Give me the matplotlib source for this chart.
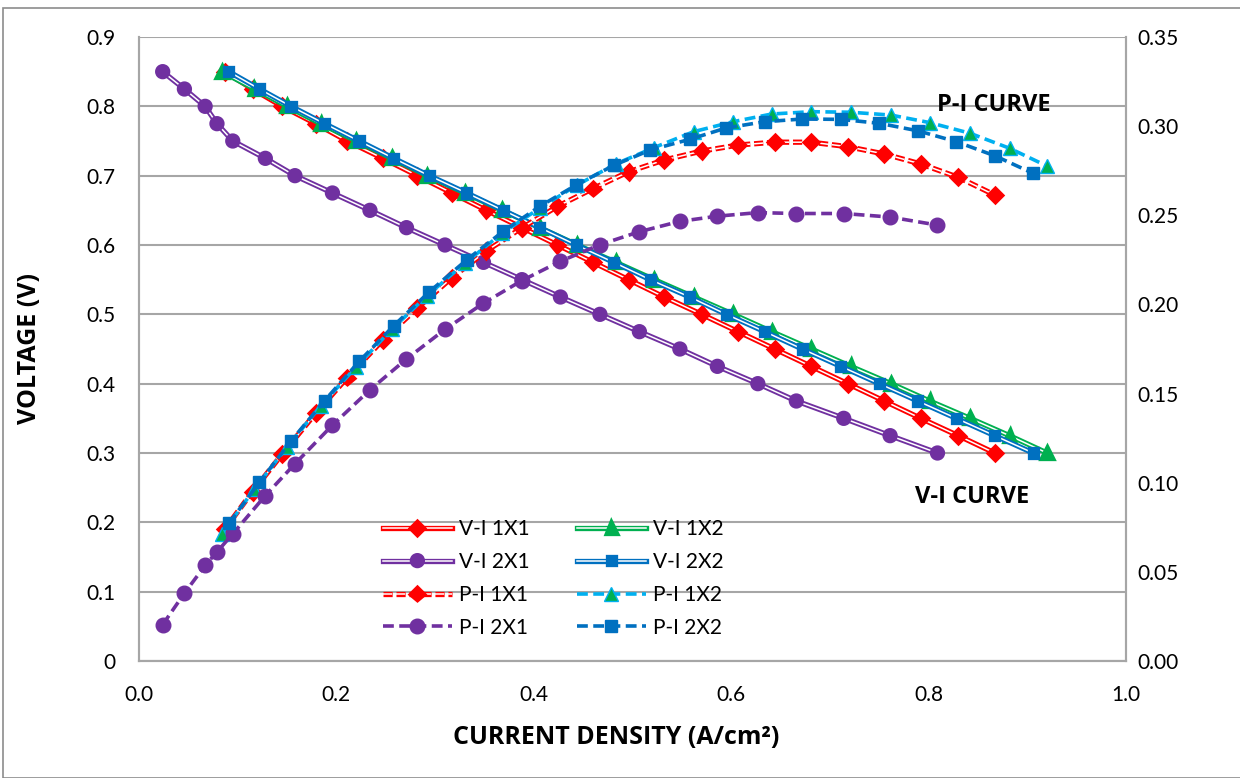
import matplotlib
matplotlib.use("Agg")
import matplotlib.pyplot as plt
import matplotlib.patheffects as pe
from matplotlib.patches import Rectangle
from matplotlib.ticker import FuncFormatter

plt.rcParams['font.family'] = ['Lato', 'DejaVu Sans']

# cell voltage (V), shared by all four cells
voltage = [0.85, 0.825, 0.80, 0.775, 0.75, 0.725, 0.70, 0.675, 0.65, 0.625, 0.60, 0.575,
           0.55, 0.525, 0.50, 0.475, 0.45, 0.425, 0.40, 0.375, 0.35, 0.325, 0.30]

# current density (A/cm2)
i_1x1 = [0.087, 0.115, 0.145, 0.179, 0.211, 0.247, 0.282, 0.317, 0.352, 0.388, 0.424, 0.460,
         0.496, 0.532, 0.570, 0.607, 0.644, 0.681, 0.718, 0.755, 0.792, 0.830, 0.867]
i_1x2 = [0.084, 0.117, 0.150, 0.184, 0.220, 0.256, 0.292, 0.330, 0.368, 0.406, 0.444, 0.483,
         0.522, 0.562, 0.602, 0.641, 0.681, 0.721, 0.762, 0.801, 0.842, 0.882, 0.920]
i_2x1 = [0.024, 0.046, 0.067, 0.079, 0.095, 0.128, 0.158, 0.196, 0.234, 0.271, 0.310, 0.349,
         0.388, 0.427, 0.467, 0.507, 0.548, 0.586, 0.627, 0.666, 0.714, 0.761, 0.809]
i_2x2 = [0.091, 0.122, 0.154, 0.188, 0.223, 0.258, 0.294, 0.332, 0.369, 0.406, 0.443, 0.481,
         0.518, 0.558, 0.595, 0.634, 0.672, 0.711, 0.750, 0.789, 0.828, 0.867, 0.906]

# power density (W/cm2)
p_1x1 = [0.074, 0.095, 0.116, 0.139, 0.159, 0.180, 0.198, 0.215, 0.230, 0.243, 0.255, 0.265,
         0.2744, 0.281, 0.286, 0.2894, 0.291, 0.291, 0.2885, 0.2844, 0.2788, 0.2713, 0.2614]
p_1x2 = [0.0714, 0.0965, 0.120, 0.143, 0.165, 0.186, 0.205, 0.223, 0.240, 0.254, 0.267, 0.2788,
         0.288, 0.2969, 0.3025, 0.3068, 0.3081, 0.3078, 0.3062, 0.302, 0.296, 0.2876, 0.2776]
p_2x1 = [0.0204, 0.038, 0.0536, 0.0612, 0.0713, 0.0928, 0.1106, 0.1323, 0.1521, 0.1694, 0.186, 0.2007,
         0.2134, 0.2242, 0.2335, 0.2408, 0.2466, 0.2495, 0.2515, 0.251, 0.251, 0.249, 0.2445]
p_2x2 = [0.0772, 0.1002, 0.1234, 0.146, 0.168, 0.188, 0.207, 0.225, 0.241, 0.255, 0.267, 0.278,
         0.2866, 0.2926, 0.299, 0.3025, 0.304, 0.3038, 0.3016, 0.2974, 0.2913, 0.2834, 0.2735]

RED, GREEN, PURPLE, BLUE, CYAN = "#FF0000", "#00B050", "#7030A0", "#0070C0", "#00B0F0"
GRID = "#a6a6a6"
BOLD = dict(family=["Open Sans", "DejaVu Sans"], fontweight="bold")

W, H = 1240, 778
fig = plt.figure(figsize=(W / 100, H / 100), dpi=100)
fig.patches.append(Rectangle((3 / W, 0), 1, 1 - 8 / H, transform=fig.transFigure,
                             fill=False, edgecolor="#8c8c8c", lw=1.2))
ax = fig.add_axes([139 / W, 1 - 661 / H, (1126 - 139) / W, (661 - 37) / H])
ax2 = ax.twinx()


def double(color):
    # excel "double" compound line: coloured stroke with white core
    return [pe.Stroke(linewidth=3.8, foreground=color), pe.Normal()]


vi_1x1, = ax.plot(i_1x1, voltage, color="white", lw=1.1, marker="D", ms=6,
                  mfc=RED, mec=RED, path_effects=double(RED), label="V-I 1X1")
vi_1x2, = ax.plot(i_1x2, voltage, color="white", lw=1.1, marker="^", ms=7,
                  mfc=GREEN, mec=GREEN, path_effects=double(GREEN), label="V-I 1X2")
vi_2x1, = ax.plot(i_2x1, voltage, color="white", lw=1.1, marker="o", ms=7.2,
                  mfc=PURPLE, mec=PURPLE, path_effects=double(PURPLE), label="V-I 2X1")
vi_2x2, = ax.plot(i_2x2, voltage, color="white", lw=1.1, marker="s", ms=5.2,
                  mfc=BLUE, mec=BLUE, path_effects=double(BLUE), label="V-I 2X2")

pi_1x1, = ax2.plot(i_1x1, p_1x1, color="white", lw=1.1, ls=(0, (6, 2.5)), marker="D", ms=6,
                   mfc=RED, mec=RED, path_effects=double(RED), label="P-I 1X1")
pi_1x2, = ax2.plot(i_1x2, p_1x2, color=CYAN, lw=2.6, ls=(0, (3, 1.5)), marker="^", ms=10,
                   mfc=GREEN, mec=CYAN, label="P-I 1X2")
pi_2x1, = ax2.plot(i_2x1, p_2x1, color=PURPLE, lw=2.6, ls=(0, (3, 1.5)), marker="o", ms=10.5,
                   mfc=PURPLE, mec=PURPLE, label="P-I 2X1")
pi_2x2, = ax2.plot(i_2x2, p_2x2, color=BLUE, lw=2.6, ls=(0, (3, 1.5)), marker="s", ms=8.5,
                   mfc=BLUE, mec=BLUE, label="P-I 2X2")

ax.set_xlim(0, 1.0)
ax.set_ylim(0, 0.9)
ax2.set_ylim(0, 0.35)
ax.set_xticks([0, 0.2, 0.4, 0.6, 0.8, 1.0])
ax.set_yticks([0, 0.1, 0.2, 0.3, 0.4, 0.5, 0.6, 0.7, 0.8, 0.9])
ax2.set_yticks([0, 0.05, 0.10, 0.15, 0.20, 0.25, 0.30, 0.35])
ax.xaxis.set_major_formatter(FuncFormatter(lambda v, _: f"{v:.1f}"))
ax.yaxis.set_major_formatter(FuncFormatter(lambda v, _: "0" if v == 0 else f"{v:.1f}"))
ax2.yaxis.set_major_formatter(FuncFormatter(lambda v, _: f"{v:.2f}"))

ax.yaxis.grid(True, color=GRID, lw=1.5)
ax.set_axisbelow(True)
for a in (ax, ax2):
    for s in a.spines.values():
        s.set_color(GRID)
        s.set_linewidth(1.5)
    a.spines["top"].set_visible(False)
ax.tick_params(axis="x", length=0, pad=17, labelsize=15)
ax.tick_params(axis="y", length=0, pad=17, labelsize=15)
ax2.tick_params(axis="y", length=0, pad=8, labelsize=15)

fig.text(30 / W, 1 - 349 / H, "VOLTAGE (V)", rotation=90, ha="center", va="center",
         fontsize=18, **BOLD)
fig.text(616 / W, 1 - 738 / H, "CURRENT DENSITY (A/cm²)", ha="center", va="center",
         fontsize=18, **BOLD)
ax.text(0.809, 0.802, "P-I CURVE", ha="left", va="center", fontsize=17, **BOLD)
ax.text(0.786, 0.2365, "V-I CURVE", ha="left", va="center", fontsize=17, **BOLD)

leg_kw = dict(loc="upper left", frameon=False, fontsize=15, handlelength=3.3,
              handletextpad=0.35, labelspacing=0.62, borderpad=0, borderaxespad=0)
leg1 = ax2.legend(handles=[vi_1x1, vi_2x1, pi_1x1, pi_2x1],
                  bbox_to_anchor=(383 / W, 1 - 519 / H), bbox_transform=fig.transFigure, **leg_kw)
ax2.add_artist(leg1)
ax2.legend(handles=[vi_1x2, vi_2x2, pi_1x2, pi_2x2],
           bbox_to_anchor=(577 / W, 1 - 519 / H), bbox_transform=fig.transFigure, **leg_kw)

fig.savefig("out.png", dpi=100)
